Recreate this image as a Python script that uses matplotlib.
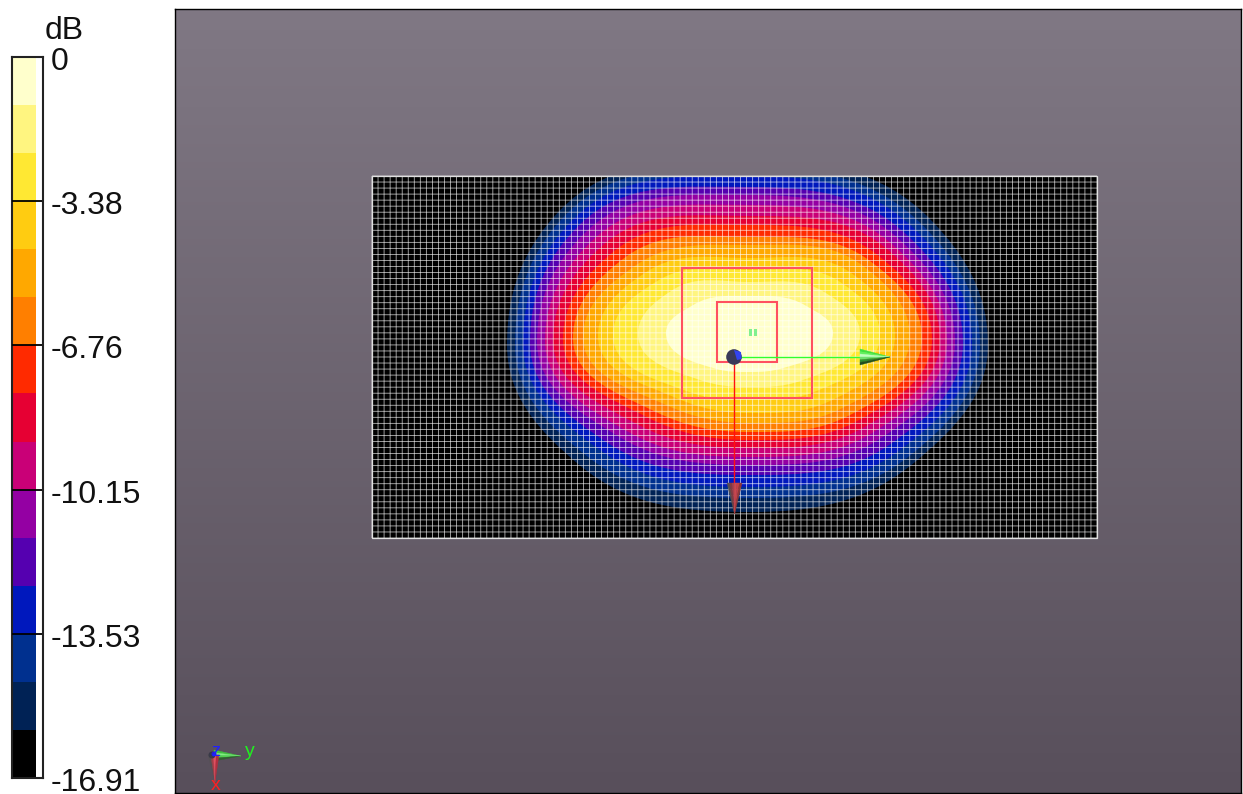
import matplotlib
matplotlib.use('Agg')
import matplotlib.pyplot as plt
import numpy as np
from matplotlib.colors import ListedColormap, BoundaryNorm
from matplotlib.patches import PathPatch, Polygon, Rectangle, Circle
from matplotlib.path import Path
from matplotlib.transforms import ScaledTranslation

W, H = 1243, 794

# colour bar, top to bottom
band_colors = ['#FFFFCC', '#FFF580', '#FFE833', '#FFCC11', '#FFA800', '#FF7F00', '#FF2A00', '#E60033',
               '#C90077', '#9400A3', '#5500B0', '#0018BD', '#00308F', '#002255', '#000000']
tick_values = [0, -3.38, -6.76, -10.15, -13.53, -16.91]
tick_labels = ['0', '-3.38', '-6.76', '-10.15', '-13.53', '-16.91']

# contour crossings (image pixels), inner to outer
left_x = [666, 638, 613, 598, 583, 573, 563, 553, 545, 537, 530, 523, 515, 507]
right_x = [833, 860, 880, 895, 910, 922, 932, 940, 947, 955, 963, 972, 980, 988]
side_y = [333, 334, 335, 336, 337, 338, 339, 340, 341, 342, 343, 344, 345, 345]
top_y = [296, 282, 270, 258, 245, 237, 225, 216, 205, 195, 187, 176, 168, 160]
bottom_y = [372, 387, 400, 413, 423, 432, 440, 448, 457, 465, 475, 487, 498, 512]
# along the diagonals through (750, 345)
nw_x = [693, 672, 658, 646, 636, 625, 615, 605, 596, 587, 579, 572, 565, 559]
sw_x = [716, 700, 685, 675, 665, 655, 647, 637, 627, 619, 609, 600, 589, 579]
se_x = [783, 801, 816, 830, 841, 850, 858, 866, 874, 882, 891, 900, 909, 916]
ne_x = [806, 825, 840, 852, 863, 870, 878, 887, 893, 900, 907, 915, 922, 930]

cx, cy, slope = 750, 345, 0.7
font = 'Liberation Sans'


def px_axes(fig, x0, y0, x1, y1):
    return fig.add_axes([x0 / W, 1 - y1 / H, (x1 - x0) / W, (y1 - y0) / H])


def smooth_closed(pts):
    # closed curve through E, SE, S, SW, W, NW, N, NE; upright tangents at the four extremes
    pts = np.asarray(pts, float)
    n = len(pts)
    tang = np.zeros_like(pts)
    for i in range(n):
        back = pts[i] - pts[i - 1]
        fwd = pts[(i + 1) % n] - pts[i]
        # the shorter chord says a bit more about the local direction
        tang[i] = back / np.linalg.norm(back) ** 2 + fwd / np.linalg.norm(fwd) ** 2
    tang[[0, 4], 0] = 0
    tang[[2, 6], 1] = 0
    tang /= np.linalg.norm(tang, axis=1, keepdims=True)
    verts = [pts[0]]
    codes = [Path.MOVETO]
    for i in range(n):
        j = (i + 1) % n
        hand = np.linalg.norm(pts[j] - pts[i]) * 0.37
        verts += [pts[i] + tang[i] * hand, pts[j] - tang[j] * hand, pts[j]]
        codes += [Path.CURVE4] * 3
    return Path(verts, codes)


def shaded_cone(ax, base_a, base_b, tip, shades):
    # cone as a fan of thin triangles, one shade each
    base_a, base_b, tip = map(np.asarray, (base_a, base_b, tip))
    n = len(shades)
    for i, c in enumerate(shades):
        a = base_a + (base_b - base_a) * i / n
        b = base_a + (base_b - base_a) * (i + 1) / n
        ax.add_patch(Polygon([a, b, tip], closed=True, fc=c, ec=c, lw=0.3, zorder=8))


fig = plt.figure(figsize=(W / 100, H / 100), dpi=100, facecolor='white')

# --- colour bar
cax = px_axes(fig, 12, 57, 43, 778)
edges = np.linspace(tick_values[-1], tick_values[0], len(band_colors) + 1)
cmap = ListedColormap(band_colors[::-1])
norm = BoundaryNorm(edges, cmap.N)
cax.pcolormesh([0, 1], edges, ((edges[:-1] + edges[1:]) / 2)[:, None], cmap=cmap, norm=norm)
cax.set_xticks([])
cax.yaxis.tick_right()
cax.set_yticks(tick_values)
cax.set_yticklabels(tick_labels, family=font, fontsize=23, va='center', color='#111111')
cax.tick_params(axis='y', direction='in', length=0, pad=5.7)
for lab in cax.get_yticklabels():
    lab.set_transform(lab.get_transform() + ScaledTranslation(0, -0.05, fig.dpi_scale_trans))
cax.hlines(tick_values[1:-1], 0, 1.22, color='black', lw=1.3, clip_on=False, zorder=5)
cax.set_ylim(tick_values[-1], tick_values[0])
for s in cax.spines.values():
    s.set_linewidth(1.5)
    s.set_color('#222222')
fig.text(45 / W, 1 - 31 / H, 'dB', family=font, fontsize=23, va='center', ha='left', color='#111111')

# --- 3D view, axes in image pixels
ax = px_axes(fig, 175, 9, 1241, 793)
grad = np.linspace([0x80, 0x78, 0x84], [0x58, 0x4F, 0x5B], 256)[:, None, :].astype(np.uint8)
ax.imshow(grad, extent=(175, 1241, 793, 9), aspect='auto', zorder=0)
ax.set_xlim(175, 1241)
ax.set_ylim(793, 9)
ax.set_xticks([])
ax.set_yticks([])
for s in ax.spines.values():
    s.set_linewidth(1.0)
    s.set_color('black')

# field plane
x0, x1, y0, y1 = 372, 1097, 176, 538
plane = Rectangle((x0, y0), x1 - x0, y1 - y0, fc='black', ec='none', zorder=1)
ax.add_patch(plane)
for i in range(13, -1, -1):
    pts = [(right_x[i], side_y[i]), (se_x[i], cy + slope * (se_x[i] - cx)), (cx, bottom_y[i]),
           (sw_x[i], cy + slope * (cx - sw_x[i])), (left_x[i], side_y[i]), (nw_x[i], cy - slope * (cx - nw_x[i])),
           (cx, top_y[i]), (ne_x[i], cy - slope * (ne_x[i] - cx))]
    patch = PathPatch(smooth_closed(pts), fc=band_colors[i], ec='none', zorder=2)
    ax.add_patch(patch)
    patch.set_clip_path(plane)

# mesh, left unsnapped so it beats against the pixels like the original
xs = np.linspace(x0, x1, 121)
ys = np.linspace(y0, y1, 61)
mesh_v = ax.vlines(xs, y0, y1, color='white', lw=0.6, alpha=0.7, zorder=3)
mesh_h = ax.hlines(ys, x0, x1, color='white', lw=0.6, alpha=0.7, zorder=3)
mesh_v.set_snap(False)
mesh_h.set_snap(False)
ax.add_patch(Rectangle((x0, y0), x1 - x0, y1 - y0, fc='none', ec='#E0E0E0', lw=0.9, zorder=4))

# red boxes
ax.add_patch(Rectangle((682, 268), 130, 130, fc='none', ec='#FF5060', lw=1.5, zorder=5))
ax.add_patch(Rectangle((717, 302), 60, 60, fc='none', ec='#FF5060', lw=1.5, zorder=5))
ax.add_patch(Rectangle((749, 329), 3, 7, fc='#80F090', ec='none', zorder=5))
ax.add_patch(Rectangle((754, 329), 3, 7, fc='#80F090', ec='none', zorder=5))

# source axes
ax.plot([734, 734], [357, 485], color='#FF1010', lw=1.0, zorder=7)
ax.plot([734, 862], [357, 357], color='#30FF30', lw=1.0, zorder=7)
shaded_cone(ax, (727, 483), (742, 483), (734.5, 514), ['#555050', '#803C40', '#A84048', '#C84850', '#C04048', '#903838'])
shaded_cone(ax, (860, 349), (860, 365), (890, 357), ['#40E040', '#60F060', '#C0FFC0', '#70E070', '#309030', '#205020'])
ax.add_patch(Circle((734, 357), 7.8, fc='#3A3A58', ec='none', zorder=9))
ax.add_patch(Polygon([(734, 350), (741, 352), (741.5, 359), (737, 360)], closed=True, fc='#3344EE', ec='none', zorder=10))

# orientation triad
shaded_cone(ax, (214, 750), (214, 761), (241, 756), ['#40C040', '#80F080', '#50D050', '#306030'])
shaded_cone(ax, (208, 755), (219, 755), (215, 782), ['#555055', '#A04048', '#E05060', '#B03040'])
ax.add_patch(Circle((212, 755), 3.5, fc='#3A3A48', ec='none', zorder=9))
ax.add_patch(Circle((214, 754), 2.5, fc='#2020E0', ec='none', zorder=10))
ax.text(216, 751, 'z', color='#2020FF', family=font, fontsize=13, ha='center', va='center', zorder=11)
ax.text(250, 752, 'y', color='#20F020', family=font, fontsize=14, ha='center', va='center', zorder=11)
ax.text(216, 785, 'x', color='#FF2020', family=font, fontsize=14, ha='center', va='center', zorder=11)

fig.savefig('out.png', dpi=100)
